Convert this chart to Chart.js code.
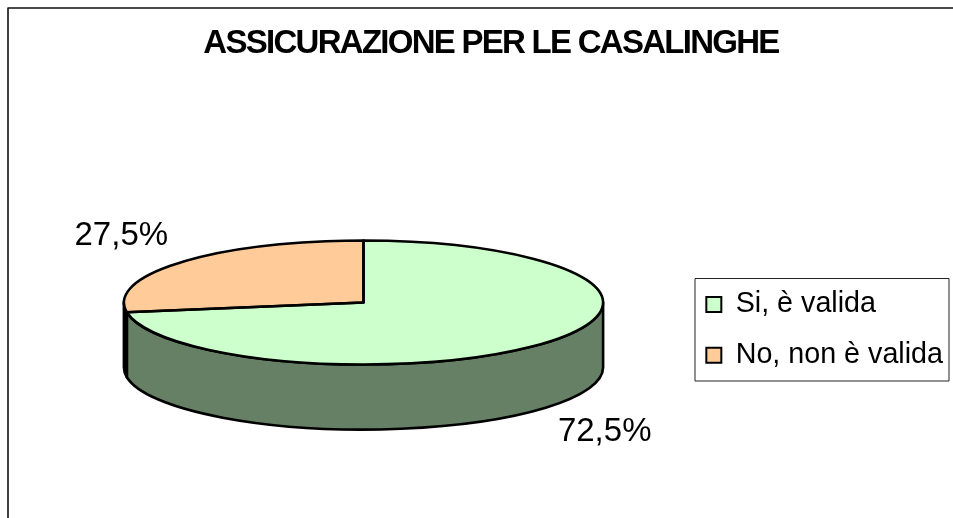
<!DOCTYPE html>
<html>
<head>
<meta charset="utf-8">
<title>Assicurazione per le casalinghe</title>
<script src="https://cdn.jsdelivr.net/npm/chart.js@4"></script>
<style>
  html, body { margin: 0; padding: 0; background: #fff; }
  canvas { display: block; }
</style>
</head>
<body>
<canvas id="pieChart" width="953" height="518"></canvas>
<script>
const categories = ['Si, è valida', 'No, non è valida'];
const values = [72.5, 27.5];
const topColors = ['#CCFFCC', '#FFCC99'];
const sideColors = ['#668066', '#000000'];
const chartTitle = 'ASSICURAZIONE PER LE CASALINGHE';

// pie is squashed to look like the old 3d excel one
const view = { cx: 363.5, cy: 302.5, rx: 239.6, ry: 62, depth: 65 };
// where the % labels sit, relative to the middle of their slice
const labelOffsets = [[59, 89], [-60, -26]];

const fontName = '"Liberation Sans", Arial, sans-serif';

function slicePath(ctx, el, dy) {
  ctx.beginPath();
  ctx.ellipse(view.cx, view.cy + dy, view.rx, view.ry, 0, el.startAngle, el.endAngle);
  ctx.lineTo(view.cx, view.cy + dy);
  ctx.closePath();
}

const pie3d = {
  id: 'pie3d',
  beforeDraw(chart) {
    // reference title is set tighter than the font wants
    const ctx = chart.ctx;
    const title = chart.titleBlock;
    if (title._tight) return;
    const draw = title.draw;
    title.draw = function () {
      ctx.letterSpacing = '-1.73px';
      draw.call(this);
      ctx.letterSpacing = '0px';
    };
    title._tight = true;
  },
  beforeDatasetsDraw(chart) {
    const ctx = chart.ctx;
    const arcs = chart.getDatasetMeta(0).data;

    // side wall, only the front half of the ellipse shows
    arcs.forEach((el, i) => {
      const a0 = Math.max(el.startAngle, 0);
      const a1 = Math.min(el.endAngle, Math.PI);
      if (a1 <= a0) return;
      ctx.beginPath();
      ctx.ellipse(view.cx, view.cy, view.rx, view.ry, 0, a0, a1);
      ctx.ellipse(view.cx, view.cy + view.depth, view.rx, view.ry, 0, a1, a0, true);
      ctx.closePath();
      ctx.fillStyle = sideColors[i];
      ctx.fill();
      ctx.strokeStyle = '#000';
      ctx.lineWidth = 2.6;
      ctx.lineJoin = 'round';
      ctx.stroke();
    });

    // the slices themselves get drawn by chart.js inside this transform
    const el = arcs[0];
    ctx.save();
    ctx.translate(view.cx, view.cy);
    ctx.scale(view.rx / el.outerRadius, view.ry / el.outerRadius);
    ctx.translate(-el.x, -el.y);
  },
  afterDatasetsDraw(chart) {
    const ctx = chart.ctx;
    ctx.restore();
    const arcs = chart.getDatasetMeta(0).data;

    arcs.forEach(el => {
      slicePath(ctx, el, 0);
      ctx.strokeStyle = '#000';
      ctx.lineWidth = 2.6;
      ctx.lineJoin = 'round';
      ctx.stroke();
    });

    // % labels
    ctx.save();
    ctx.font = '33px ' + fontName;
    ctx.fillStyle = '#000';
    ctx.textAlign = 'center';
    ctx.textBaseline = 'middle';
    arcs.forEach((el, i) => {
      const mid = (el.startAngle + el.endAngle) / 2;
      const x = view.cx + Math.cos(mid) * view.rx + labelOffsets[i][0];
      const y = view.cy + Math.sin(mid) * view.ry + labelOffsets[i][1];
      ctx.fillText(values[i].toFixed(1).replace('.', ',') + '%', x, y);
    });
    ctx.restore();
  },
  afterDraw(chart) {
    const ctx = chart.ctx;
    ctx.save();
    // outer frame, cut off by the right and bottom of the picture
    ctx.strokeStyle = '#111';
    ctx.lineWidth = 1.6;
    ctx.beginPath();
    ctx.moveTo(8, 518);
    ctx.lineTo(8, 8);
    ctx.lineTo(953, 8);
    ctx.stroke();
    // legend frame
    ctx.strokeStyle = '#222';
    ctx.lineWidth = 1;
    ctx.strokeRect(695, 278.5, 254, 102.5);
    ctx.restore();
  }
};

new Chart(document.getElementById('pieChart').getContext('2d'), {
  type: 'pie',
  data: {
    labels: categories,
    datasets: [{
      data: values,
      backgroundColor: topColors,
      borderWidth: 0
    }]
  },
  options: {
    responsive: false,
    animation: false,
    layout: { padding: { left: 29, right: 0 } },
    plugins: {
      tooltip: { enabled: false },
      title: {
        display: true,
        text: chartTitle,
        color: '#000',
        font: { family: fontName, size: 33, weight: 'bold', lineHeight: 1.2 },
        padding: { top: 24, bottom: 78 }
      },
      legend: {
        position: 'right',
        fullSize: false,
        labels: {
          color: '#000',
          font: { family: fontName, size: 28.7 },
          boxWidth: 15,
          boxHeight: 15,
          padding: 22,
          generateLabels(chart) {
            const items = Chart.overrides.pie.plugins.legend.labels.generateLabels(chart);
            items.forEach(item => {
              item.strokeStyle = '#000';
              item.lineWidth = 2;
            });
            return items;
          }
        }
      }
    }
  },
  plugins: [pie3d]
});
</script>
</body>
</html>
